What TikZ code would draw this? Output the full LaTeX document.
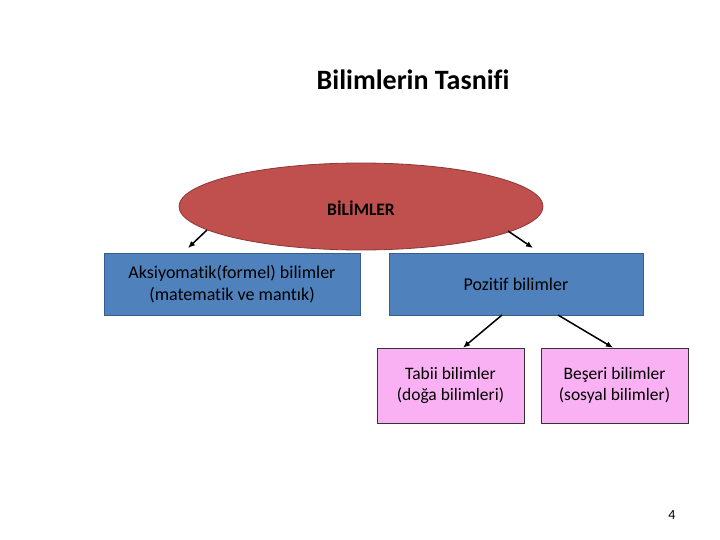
\documentclass[tikz,border=0pt]{standalone}
\usepackage{fontspec}
\setmainfont{Carlito}[Ligatures=NoCommon]
\usetikzlibrary{arrows.meta}
\begin{document}
\begin{tikzpicture}[x=1pt,y=-1pt,
  pinkbox/.style={draw=black!80,line width=0.6pt,fill={rgb,255:red,249;green,177;blue,243},inner sep=0pt,align=center,font=\fontsize{17.5}{21}\selectfont},
  conn/.style={-{Latex[length=7pt,width=6pt]},line width=1.5pt,black}]
\useasboundingbox (0,0) rectangle (720,540);
\definecolor{bluefill}{RGB}{79,129,189}
\definecolor{blueline}{RGB}{56,93,138}
\definecolor{redfill}{RGB}{192,80,77}
\definecolor{redline}{RGB}{140,56,54}
\node (title) at (413,80) {\fontsize{28}{33}\selectfont\bfseries Bilimlerin Tasnifi};
\draw[fill=redfill,draw=redline,line width=0.8pt] (361,206.5) ellipse [x radius=182, y radius=43.5];
\node (bil) at (361,208) {\fontsize{17.5}{21}\selectfont\bfseries BİLİMLER};
\node[draw=blueline,fill=bluefill,line width=0.8pt,minimum width=256pt,minimum height=62pt,inner sep=0pt,align=center,font=\fontsize{18}{22}\selectfont] (aks) at (232,284) {Aksiyomatik(formel) bilimler\\(matematik ve mantık)};
\node[draw=blueline,fill=bluefill,line width=0.8pt,minimum width=254pt,minimum height=62pt,inner sep=0pt,font=\fontsize{18}{22}\selectfont] (poz) at (516,284) {Pozitif bilimler};
\node[pinkbox,minimum width=147pt,minimum height=75pt] (tab) at (450.5,385.5) {Tabii bilimler\\(doğa bilimleri)};
\node[pinkbox,minimum width=147pt,minimum height=75pt] (bes) at (614.5,385.5) {Beşeri bilimler\\(sosyal bilimler)};
\node (num) at (672,515) {\fontsize{14}{17}\selectfont 4};
\coordinate (e1) at (207,230);
\coordinate (e2) at (508,231);
\coordinate (a1) at (188,248);
\coordinate (a2) at (533,248);
\coordinate (p1) at (502,315);
\coordinate (p2) at (558,315);
\draw[conn] (e1) -- (a1);
\draw[conn] (e2) -- (a2);
\draw[conn] (p1) -- (tab.north -| 463,0);
\draw[conn] (p2) -- (bes.north -| 613,0);
\end{tikzpicture}
\end{document}
